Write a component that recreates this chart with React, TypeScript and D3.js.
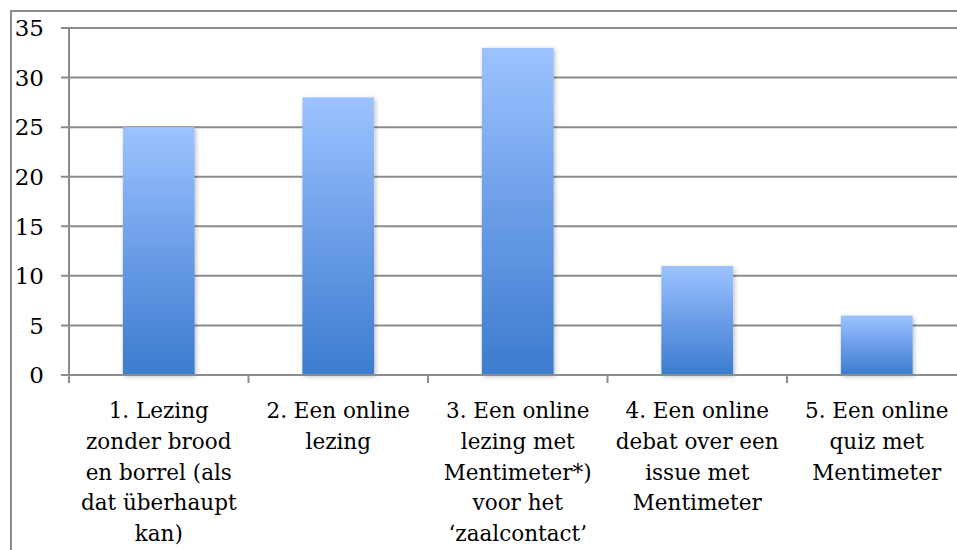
import { useRef, useEffect } from "react";
import * as d3 from "d3";

const categories = ["1", "2", "3", "4", "5"];
const values = [25, 28, 33, 11, 6];
const tickLabels = [
    ["1. Lezing", "zonder brood", "en borrel (als", "dat überhaupt", "kan)"],
    ["2. Een online", "lezing"],
    ["3. Een online", "lezing met", "Mentimeter*)", "voor het", "‘zaalcontact’"],
    ["4. Een online", "debat over een", "issue met", "Mentimeter"],
    ["5. Een online", "quiz met", "Mentimeter"],
];
const yTicks = [0, 5, 10, 15, 20, 25, 30, 35];

function drawChart(svgRef) {
    const width = 957,
        height = 550;
    const left = 69,
        right = 966.5,
        top = 28,
        bottom = 375;
    const gray = "#8c8c8c";
    const font = "'DejaVu Serif', serif";

    let svg = d3.select(svgRef.current);
    svg.selectAll("*").remove();
    svg.attr("width", width).attr("height", height).attr("viewBox", `0 0 ${width} ${height}`);

    const defs = svg.append("defs");
    const grad = defs.append("linearGradient")
        .attr("id", "barGrad")
        .attr("x1", 0).attr("y1", 0).attr("x2", 0).attr("y2", 1);
    grad.append("stop").attr("offset", "0%").attr("stop-color", "#9dc3ff");
    grad.append("stop").attr("offset", "50%").attr("stop-color", "#6b9de8");
    grad.append("stop").attr("offset", "100%").attr("stop-color", "#3c7cce");

    const shadow = defs.append("filter").attr("id", "shadow")
        .attr("x", "-10%").attr("y", "-10%").attr("width", "130%").attr("height", "130%");
    shadow.append("feDropShadow")
        .attr("dx", 1.5).attr("dy", 1.5).attr("stdDeviation", 2)
        .attr("flood-color", "#000").attr("flood-opacity", 0.25);

    svg.append("rect").attr("width", width).attr("height", height).attr("fill", "#fff");

    // outer chart border
    svg.append("rect")
        .attr("x", 11).attr("y", 11)
        .attr("width", 1000).attr("height", 1000)
        .attr("fill", "none").attr("stroke", gray).attr("stroke-width", 2);

    const x = d3.scaleBand().domain(categories).range([left, right]).padding(0);
    const y = d3.scaleLinear().domain([0, 35]).range([bottom, top]);

    // gridlines + y ticks
    svg.append("g")
        .selectAll("line")
        .data(yTicks)
        .join("line")
        .attr("x1", left - 8).attr("x2", right)
        .attr("y1", d => y(d)).attr("y2", d => y(d))
        .attr("stroke", gray).attr("stroke-width", 2);

    svg.append("g")
        .selectAll("text")
        .data(yTicks)
        .join("text")
        .attr("x", 44)
        .attr("y", d => y(d))
        .attr("dy", "0.36em")
        .attr("text-anchor", "end")
        .attr("font-family", font)
        .attr("font-size", 23)
        .attr("fill", "#000")
        .text(d => d);

    // bars
    const barW = x.bandwidth() * 0.4;
    svg.append("g")
        .selectAll("rect")
        .data(values)
        .join("rect")
        .attr("x", (d, i) => x(categories[i]) + (x.bandwidth() - barW) / 2)
        .attr("y", d => y(d))
        .attr("width", barW)
        .attr("height", d => y(0) - y(d))
        .attr("fill", "url(#barGrad)")
        .attr("filter", "url(#shadow)");

    // y axis line
    svg.append("line")
        .attr("x1", left).attr("x2", left)
        .attr("y1", top).attr("y2", bottom + 8)
        .attr("stroke", gray).attr("stroke-width", 2);

    // x axis baseline redrawn above bars
    svg.append("line")
        .attr("x1", left - 8).attr("x2", right)
        .attr("y1", bottom).attr("y2", bottom)
        .attr("stroke", gray).attr("stroke-width", 2);

    // category ticks
    svg.append("g")
        .selectAll("line")
        .data(categories.concat(["end"]))
        .join("line")
        .attr("x1", (d, i) => left + i * x.bandwidth())
        .attr("x2", (d, i) => left + i * x.bandwidth())
        .attr("y1", bottom).attr("y2", bottom + 8)
        .attr("stroke", gray).attr("stroke-width", 2);

    // category labels
    svg.append("g")
        .selectAll("text")
        .data(tickLabels)
        .join("text")
        .attr("x", (d, i) => x(categories[i]) + x.bandwidth() / 2)
        .attr("y", 418)
        .attr("text-anchor", "middle")
        .attr("font-family", font)
        .attr("font-size", 21.5)
        .attr("fill", "#000")
        .selectAll("tspan")
        .data(d => d)
        .join("tspan")
        .attr("x", function () {
            return d3.select(this.parentNode).attr("x");
        })
        .attr("dy", (d, i) => (i === 0 ? 0 : 30.8))
        .text(d => d);
}

export default function App() {
    const svg = useRef(null);
    useEffect(() => {
        drawChart(svg);
    }, [svg]);

    return (
        <div style={{ position: "absolute", left: 0, top: 0 }}>
            <svg ref={svg} style={{ display: "block" }} />
        </div>
    );
}
